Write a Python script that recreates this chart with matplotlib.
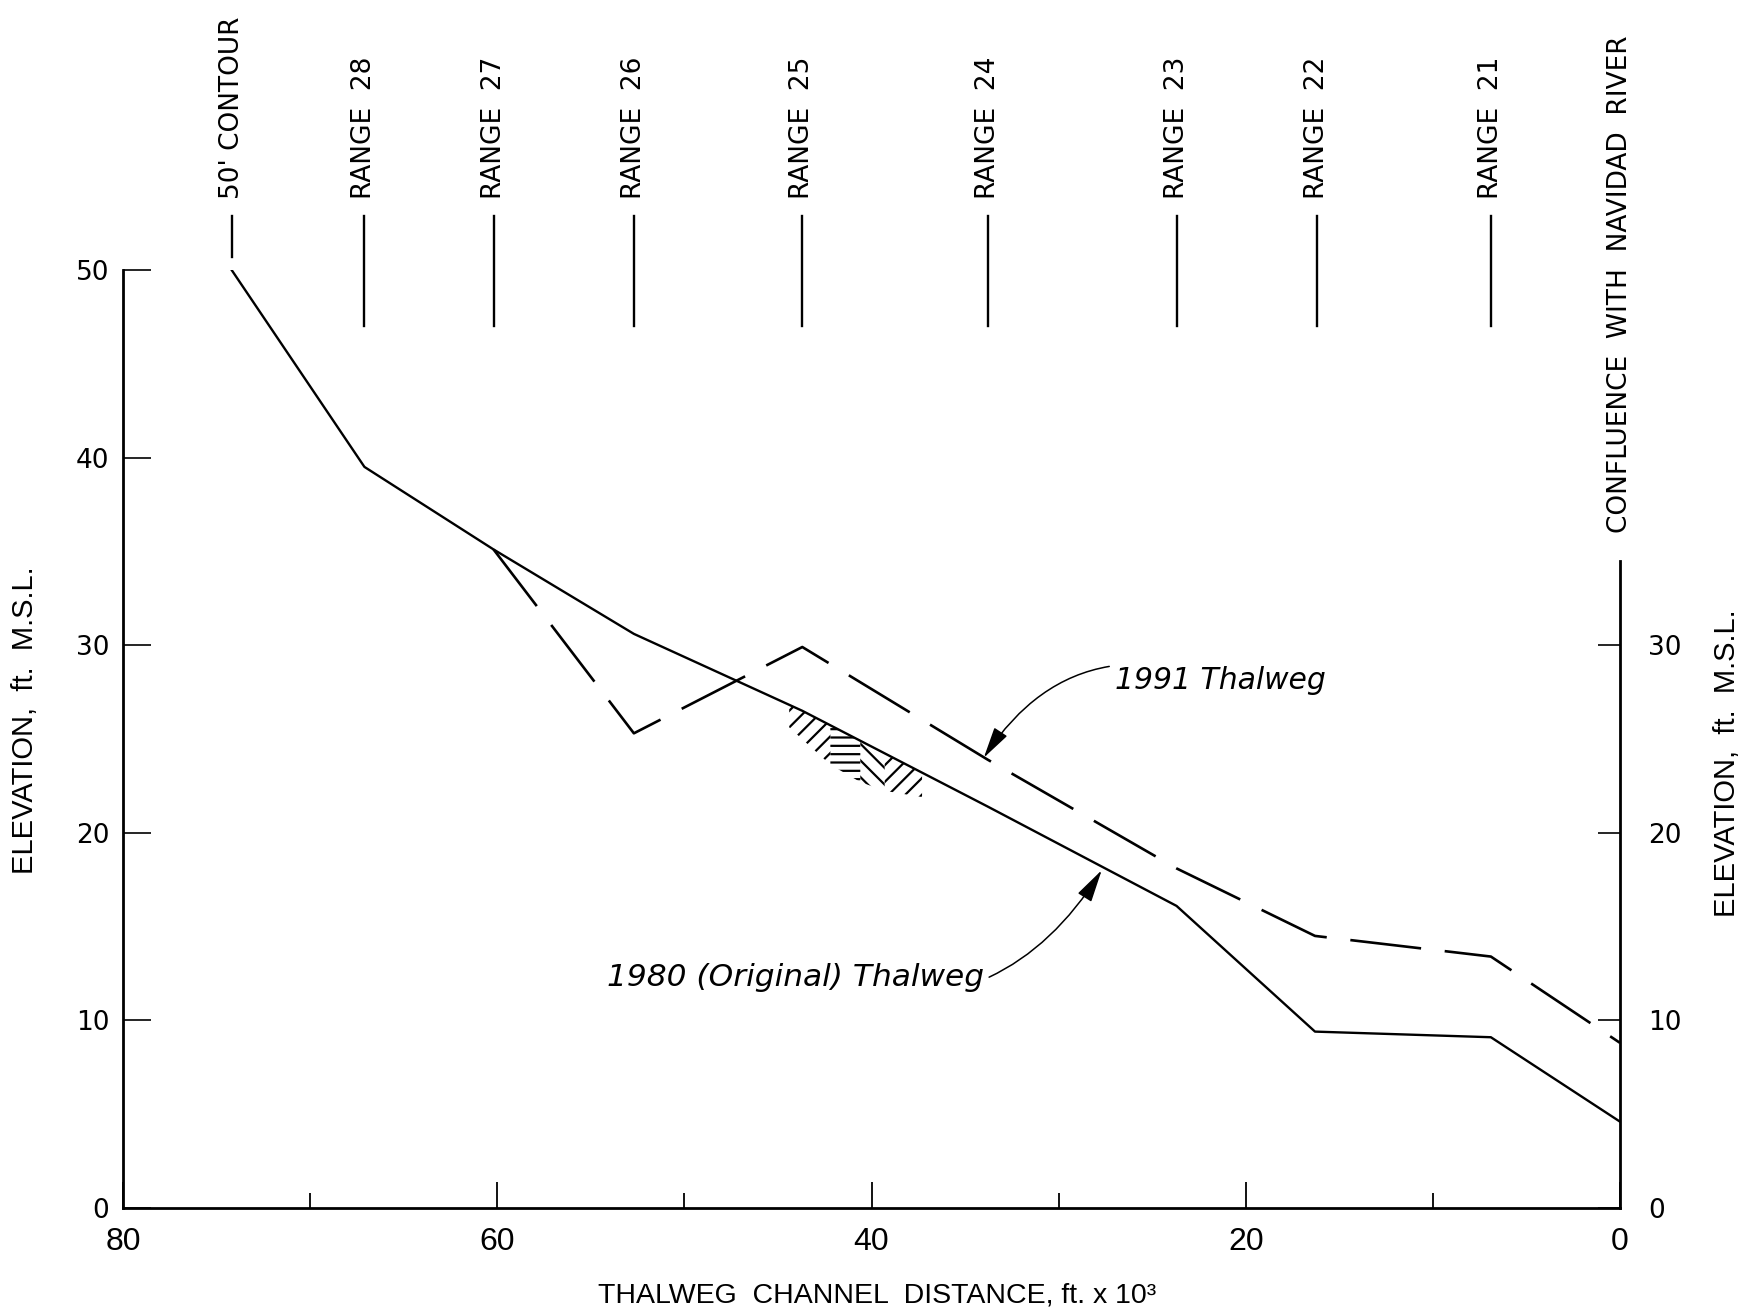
import numpy as np
import matplotlib
matplotlib.use('Agg')
import matplotlib.pyplot as plt
from matplotlib import font_manager as fm

# thalweg profile (distance in 1000 ft, elevation ft MSL)
range_names = ["50' CONTOUR", 'RANGE  28', 'RANGE  27', 'RANGE  26', 'RANGE  25',
               'RANGE  24', 'RANGE  23', 'RANGE  22', 'RANGE  21']
range_x = [74.2, 67.1, 60.2, 52.7, 43.7, 33.8, 23.7, 16.2, 6.9]

x_1980 = [74.2, 67.1, 60.2, 52.7, 43.7, 33.8, 23.7, 16.3, 6.9, 0.0]
z_1980 = [50.0, 39.5, 35.1, 30.6, 26.5, 21.4, 16.1, 9.4, 9.1, 4.6]

x_1991 = [60.2, 52.7, 43.7, 33.8, 23.7, 16.3, 6.9, 0.0]
z_1991 = [35.1, 25.3, 29.9, 23.9, 18.1, 14.5, 13.4, 8.8]

# scour patch under the 1980 line
hatch_x = [44.4, 42.2, 40.6, 39.3, 37.3]
hatch_depth = [1.2, 2.1, 2.2, 2.0, 1.3]

xticks_major = [80, 60, 40, 20, 0]
xticks_minor = [70, 50, 30, 10]
yticks_left = [0, 10, 20, 30, 40, 50]
yticks_right = [0, 10, 20, 30]

names = {f.name for f in fm.fontManager.ttflist}
narrow = 'Liberation Sans Narrow' if 'Liberation Sans Narrow' in names else 'Liberation Sans'

plt.rcParams['font.family'] = 'DejaVu Sans'
plt.rcParams['hatch.linewidth'] = 1.6

fig = plt.figure(figsize=(17.58, 13.16), dpi=100)
ax = fig.add_axes([0.070, 0.0821, 0.8515, 0.7128])
ax.set_xlim(80, 0)
ax.set_ylim(0, 50)

ax.plot(x_1980, z_1980, color='black', lw=1.7)
ax.plot(x_1991, z_1991, color='black', lw=1.9, dashes=(27, 9))

# hatched patch
xs = np.array(hatch_x)
top = np.interp(xs, x_1980[::-1], z_1980[::-1])
bot = top - np.array(hatch_depth)
patterns = ['//', '--', '\\\\', '//']
for i, p in enumerate(patterns):
    seg = slice(i, i + 2)
    ax.fill_between(xs[seg], bot[seg], top[seg], facecolor='none',
                    edgecolor='black', linewidth=0, hatch=p)

# range markers above the plot
for i, (x, name) in enumerate(zip(range_x, range_names)):
    y0 = 50.7 if i == 0 else 47.0
    ax.plot([x, x], [y0, 52.9], color='black', lw=1.7, clip_on=False)
    ax.text(x, 53.8, name, rotation=90, ha='center', va='bottom',
            fontsize=19, clip_on=False)
ax.text(0, 36.0, 'CONFLUENCE  WITH  NAVIDAD  RIVER', rotation=90,
        ha='center', va='bottom', fontsize=19, clip_on=False)

# axes styling
for s in ['top', 'right']:
    ax.spines[s].set_visible(False)
ax.spines['left'].set_bounds(0, 50)
ax.spines['left'].set_linewidth(2.0)
ax.spines['bottom'].set_linewidth(2.0)

ax.set_xticks(xticks_major)
ax.set_xticks(xticks_minor, minor=True)
ax.tick_params(axis='x', which='major', direction='in', length=19, width=1.3,
               pad=14, labelsize=23)
ax.tick_params(axis='x', which='minor', direction='in', length=11, width=1.3)
for lbl in ax.get_xticklabels():
    lbl.set_family(narrow)

ax.set_yticks(yticks_left)
ax.tick_params(axis='y', direction='in', length=20, width=1.2, pad=10, labelsize=19)

ax2 = ax.twinx()
ax2.set_ylim(0, 50)
for s in ['top', 'left', 'bottom']:
    ax2.spines[s].set_visible(False)
ax2.spines['right'].set_bounds(0, 34.5)
ax2.spines['right'].set_linewidth(2.0)
ax2.set_yticks(yticks_right)
ax2.tick_params(axis='y', direction='in', length=16, width=1.2, pad=20, labelsize=19)

# annotations
ax.annotate('1991 Thalweg', xy=(34.0, 24.0), xytext=(27.0, 28.1),
            ha='left', va='center', fontsize=21.5, fontstyle='italic',
            arrowprops=dict(arrowstyle='-|>,head_length=0.9,head_width=0.22',
                            connectionstyle='arc3,rad=0.4', color='black',
                            lw=1.1, shrinkA=2, shrinkB=0))
ax.annotate('1980 (Original) Thalweg', xy=(27.7, 18.0), xytext=(34.0, 12.3),
            ha='right', va='center', fontsize=22.5, fontstyle='italic',
            arrowprops=dict(arrowstyle='-|>,head_length=0.9,head_width=0.22',
                            connectionstyle='arc3,rad=0.4', color='black',
                            lw=1.1, shrinkA=2, shrinkB=0))

fig.text(877 / 1758, 1 - 1296 / 1316, 'THALWEG  CHANNEL  DISTANCE, ft. x 10³',
         ha='center', va='center', fontsize=20.5, family='Liberation Sans')
fig.text(25 / 1758, 1 - 720 / 1316, 'ELEVATION,  ft.  M.S.L.', rotation=90,
         ha='center', va='center', fontsize=21, family='Liberation Sans')
fig.text(1727 / 1758, 1 - 763 / 1316, 'ELEVATION,  ft.  M.S.L.', rotation=90,
         ha='center', va='center', fontsize=21, family='Liberation Sans')

fig.savefig('out.png', dpi=100)
